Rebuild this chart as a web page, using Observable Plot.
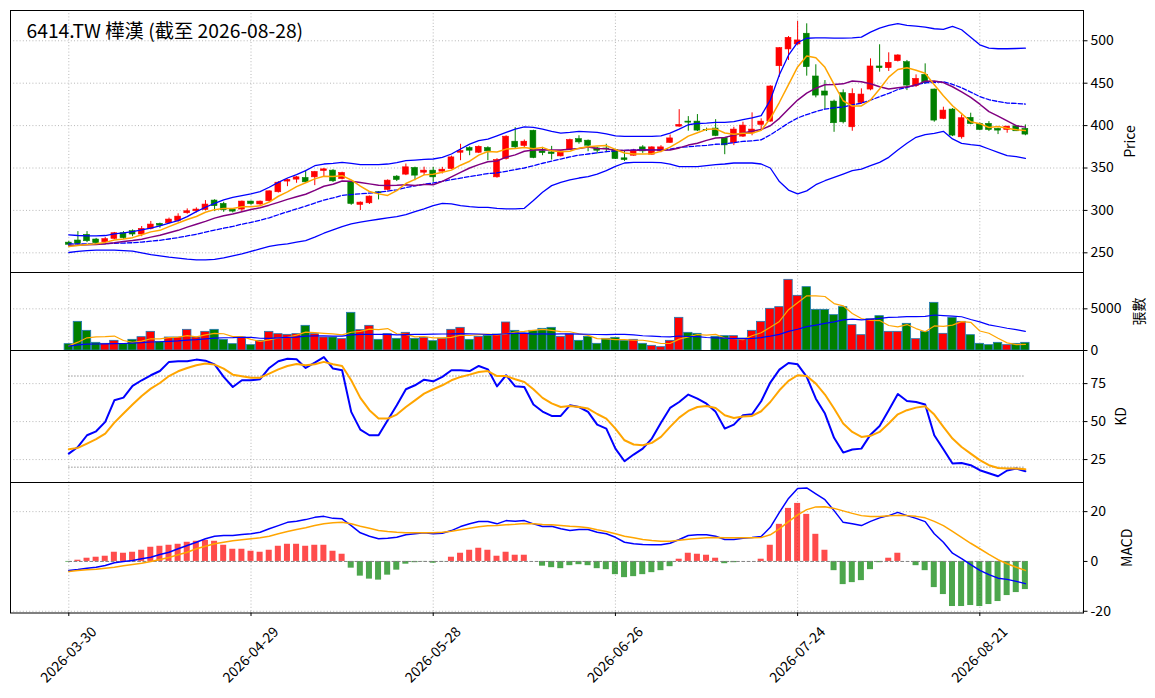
<!DOCTYPE html>
<html><head><meta charset="utf-8">
<script src="https://cdn.jsdelivr.net/npm/d3@7"></script>
<script src="https://cdn.jsdelivr.net/npm/@observablehq/plot@0.6"></script>
<style>
html,body{margin:0;padding:0;background:#fff;}
#chart svg{display:block;}
</style></head><body><div id="chart"></div>
<script>
const title = "6414.TW 樺漢 (截至 2026-08-28)";
const tickIndex = [0, 20, 40, 60, 80, 100];
const tickLabels = ["2026-03-30", "2026-04-29", "2026-05-28", "2026-06-26", "2026-07-24", "2026-08-21"];
const priceTicks = [250, 300, 350, 400, 450, 500];
const volumeTicks = [0, 5000];
const kdTicks = [25, 50, 75];
const kdRefs = [20, 80];
const macdTicks = [-20, 0, 20];

const opens = [262,264.5,271.2,265.7,262.5,266.5,273.1,275.5,271.6,278.2,
 284.1,284.9,287.3,296.7,299,300.6,311.6,307.6,301,301,
 310.4,307,310.8,321.4,334,336.3,338.2,339,346.5,346.9,
 337,333.1,306.5,308.4,321.4,324.1,339.8,342.2,350,344.5,
 346.9,345.7,348.8,368,373.5,368,373.5,339,360.6,381,
 376,393.9,369.6,368.4,363.7,371.6,384,382.2,373.1,373,
 371.2,361.4,364.5,374.3,365.7,369.6,379.6,398.8,404.7,404.7,
 395,396.5,385.3,379.5,387,390.9,400.8,404.7,470,489.8,
 495.7,508.3,457.9,440.2,428.3,438.2,398,426.8,442.5,469.7,
 467.7,476,474.8,446.5,459.8,442.5,407.9,418.9,386.2,409.1,
 402,402,396.1,394.9,399.2,396.1];
const highs = [263.5,275,275,267,268,274,275,277,281,287,
 285,291,296,301.8,303,311.6,312.5,309.6,302,311,
 311,311,323,334,337,340,346.9,346,349.6,348,
 345,334,310,317,322,336,341,354.7,351,351,
 350.8,350.8,364,378,375,376,375,361,388,397.6,
 383,394.5,374.3,375.5,370,384,388,383,374.3,378,
 372,369.6,372,376.3,375,376.3,389,418.8,410.6,413,
 397,407,386,398,404,415,408,447,492,505,
 522.8,520,471.7,453.1,430,442.1,443.3,443.3,478.7,495.3,
 485.8,483.5,476.8,459.8,472.8,443,421.7,420,412.6,414.6,
 403,404.7,397,399,400,400.8];
const lows = [258,259,262,260,261,265.5,266,269,269,277,
 279,284,286,295.5,297,299.5,298.6,297.8,297,298,
 306,306,310,320.5,328,332,332,329.2,339.8,333,
 336,306,299.8,307,312.4,323,334,341,335,341,
 333,343,348,358.6,364.5,367,358.6,338,359.4,373,
 374,361,364.5,359.4,363,371,378,369.2,366.5,368,
 360,357.8,364,367.2,365,368,379,398,393.4,393,
 393,387,365.7,376.4,386,388,394,404,457,476.8,
 494.5,458.3,432.7,418.9,392.1,402,393.3,425,441,463,
 463.8,475,441.3,445,449,404,407,387,384,401,
 394,393,389.4,391,393,388];
const closes = [259.5,260.6,263.7,261.4,266.1,273.1,267.3,271.6,278.2,283.3,
 282,289.2,292.7,299,301,306.9,305,300.2,298.6,310.4,
 307.6,310.4,322.5,332.7,335.9,339,333.1,345.3,348.4,334.3,
 344.1,307.6,309.2,316.3,320.2,335.1,335.9,350.8,341,346.9,
 339,348,362.5,370,370.4,375,369.6,359.4,386.9,374.3,
 381,361.8,367.6,366.5,369.6,383,380.2,376.3,370.4,372,
 360.6,359.4,370.4,369.6,374.3,374.3,384.9,400.8,403.5,394.1,
 394.5,387.8,376.7,395.3,400,395.3,404.7,446.1,491.3,503.5,
 500.4,468.9,435.4,435.4,402.8,403.9,437.4,436.6,469.7,467.7,
 474,482.7,447.2,455.1,450,405.9,417.7,388.2,408.7,402,
 394.9,394.9,394.1,398.8,393.3,389.4];

const ma5 = [257.5,258.6,259.8,260.6,262.3,265,266.3,267.9,271.3,274.7,
 276.5,280.9,285.1,289.2,292.8,297.8,300.9,302.4,302.3,304.2,
 304.4,305.4,309.9,316.7,321.8,328.1,332.6,337.2,340.3,340,
 341,335.9,328.7,322.3,319.5,317.7,323.3,331.7,336.6,341.9,
 342.7,345.1,347.5,353.3,358,365.2,369.5,368.9,372.3,373,
 374.2,372.7,374.3,370.2,369.3,369.7,373.4,375.1,375.9,376.4,
 371.9,367.7,366.6,366.4,366.9,369.6,374.7,380.8,387.6,391.5,
 395.6,396.1,391.3,389.7,390.9,391,394.4,408.3,427.5,448.2,
 469.2,482,479.9,468.7,448.6,429.3,423,423.2,430.1,443.1,
 457.1,466.1,468.3,465.3,461.8,448.2,435.2,423.4,414.1,404.5,
 402.3,397.7,398.9,396.9,395.2,394.1];
const ma10 = [258.6,259,259.4,259.8,260.6,261.8,263.3,264.5,266.1,268.5,
 270.7,273.6,276.5,280.3,283.7,287.1,290.9,293.8,295.8,298.5,
 301.1,303.2,306.2,309.5,313,316.2,319,323.6,328.5,330.9,
 334.6,334.3,333,331.3,329.8,329.4,329.6,330.2,329.5,330.7,
 330.2,334.2,339.6,344.9,350,354,357.3,358.2,362.8,365.5,
 369.7,371.1,371.6,371.3,371.2,372,373,374.7,373.1,372.8,
 370.8,370.6,370.8,371.2,371.6,370.8,371.2,373.7,377,379.2,
 382.6,385.4,386.1,388.6,391.2,393.3,395.3,399.8,408.6,419.5,
 430.1,438.2,444.1,448.1,448.4,449.2,452.5,451.6,449.4,445.8,
 443.2,444.6,445.7,447.7,452.4,452.6,450.7,445.8,439.7,433.2,
 425.2,416.5,411.2,405.5,399.9,398.2];
const ma20 = [260.6,260.5,260.6,260.5,260.7,261.2,261.5,261.9,262.7,263.7,
 264.8,266.3,267.9,269.9,271.9,274.4,276.8,279,281.1,283.8,
 285.9,288.4,291.3,294.9,298.4,301.7,305,308.7,312.2,314.7,
 317.8,318.7,319.6,320.4,321.4,322.8,324.3,326.9,329,330.8,
 332.4,334.3,336.3,338.1,339.9,341.7,343.5,344.2,346.1,348.1,
 350,352.7,355.6,358.1,360.6,363,365.2,366.5,367.9,369.2,
 370.3,370.8,371.2,371.2,371.4,371.4,372.1,374.2,375,376,
 376.7,378,378.4,379.9,381.4,382,383.2,389,396,403,
 409,413,416.5,419.5,421,422,424.5,426.5,430,434,
 438,442.5,445,447.9,450.4,450.9,451.6,448.7,444.6,439.5,
 434.2,430.5,428.4,426.6,426.1,425.4];
const bbUpper = [271.2,270.4,270,270,270.4,272.4,273.5,275.1,277.1,279,
 281.8,284.9,288,292.7,298.6,303.7,308.4,312.4,315.5,317.5,
 319.4,322.2,327.3,333.1,338.2,342.2,346.9,352.7,354.7,355.5,
 356.7,355.5,353.9,353.9,353.9,354.7,356.3,358.6,359.4,360.2,
 360.6,362.5,366.5,372.4,378.2,382.2,384.1,388,392,395.9,
 398.6,397.8,395.9,393.1,391.2,392,393.1,392.7,392,390.2,
 388,387.3,387.3,387.3,387.3,388,391.2,395.9,401,402.5,
 402.9,403.8,403.9,404.7,407.1,409.1,411.8,430,460,483,
 498,503,503.5,503.5,503.1,503.1,503.5,504.3,510.2,515,
 518.1,520.1,518.1,517.3,516.1,514.2,513.4,516.9,513,504.3,
 495.3,491.3,490.6,490.6,490.9,491.3];
const bbLower = [250.4,251.6,252.7,253.1,253.1,253.1,252.7,252,250,248,
 246.5,244.9,243.7,242.5,241.8,241.8,242.2,244.1,246.5,248.8,
 251.6,254.7,257.5,259.4,260.6,262.5,264.5,268.4,273.1,277.1,
 281,284.1,286.1,288,289.6,291.2,292.7,295.1,298.6,301.8,
 305.7,308.4,307.6,305.7,304.5,303.7,303.7,302.5,301.8,301.8,
 302.5,311.6,321.4,329.2,333.1,335.9,338.2,339.8,342.9,346.9,
 352,355.9,356.7,356.7,356.7,356.3,354.7,351.6,351.6,351.6,
 352.7,353.9,354.7,355.9,355.9,355.9,354.7,350,334,324,
 319.5,323,330.3,335,339,342.9,346.9,348.8,352.8,356.7,
 362.6,371.3,379.1,386.2,389.4,390.9,393.3,384.3,379.1,377.6,
 376.4,372.4,368.5,364.6,363.4,361.4];

const volumes = [760,3440,2360,920,800,1160,760,1280,1600,2240,
 1040,1560,1560,2480,1560,2240,2480,1280,760,1560,
 640,1160,2240,1960,1880,1960,2960,1960,1560,1560,
 1360,4520,2440,2960,1280,1960,1400,2120,1400,1520,
 1120,1400,2480,2720,1280,1640,1760,1920,3360,2360,
 2040,2360,2600,2720,1640,1920,1160,1640,800,1400,
 1520,1160,1280,800,560,400,1160,3920,2120,2000,
 0,1640,1720,1720,1440,2360,3440,5000,5200,8480,
 6560,7600,4880,4880,4240,5200,3040,1840,3760,4120,
 2240,2240,3200,1360,2240,5720,2000,3920,3440,1840,
 800,640,920,640,800,920];
const volMa5 = [560,1000,1520,1640,1656,1736,1200,984,1120,1408,
 1384,1544,1600,1776,1640,1880,2064,2008,1664,1664,
 1344,1080,1272,1512,1576,1840,2200,2144,2064,2000,
 1880,2192,2288,2568,2512,2632,2008,1944,1632,1680,
 1512,1512,1584,1848,1800,1904,1976,1864,1992,2208,
 2288,2408,2544,2416,2272,2248,2008,1816,1432,1384,
 1304,1304,1232,1232,1064,840,840,1368,1632,1920,
 1840,1936,1496,1416,1304,1776,2136,2792,3488,4896,
 5736,6568,6544,6480,5632,5360,4448,3840,3616,3592,
 3000,2840,3112,2632,2256,2952,2904,3048,3464,3384,
 2344,2072,1472,912,704,728];
const volMa20 = [522,669,762,782,797,829,842,880,935,1021,
 1048,1100,1153,1251,1304,1390,1489,1527,1540,1592,
 1586,1472,1466,1518,1572,1612,1722,1756,1754,1720,
 1736,1884,1928,1952,1938,1924,1870,1912,1944,1942,
 1966,1978,1990,2028,1998,1982,1922,1920,2010,2050,
 2084,1976,1984,1972,1990,1988,1976,1952,1922,1916,
 1936,1924,1864,1768,1732,1670,1640,1740,1678,1660,
 1558,1522,1478,1428,1418,1440,1554,1722,1942,2296,
 2548,2870,3050,3254,3438,3678,3772,3668,3750,3856,
 3968,3998,4072,4054,4094,4262,4190,4136,4048,3716,
 3428,3080,2882,2670,2498,2286];

const kValues = [28.9,33.3,41,43.6,49.8,64,65.8,73.5,77.2,80.5,
 83.3,89.3,89.7,89.7,90.8,90.1,87.7,79.4,72.8,77.2,
 77.2,77.9,85.3,89.7,91.4,91,85.3,88.8,92.5,84.9,
 83.8,56.4,44.7,41,41,50.9,60.7,71.3,73.9,77.6,
 76.5,79.4,83.8,83.8,83.3,86.6,84.4,73.2,80.5,73.2,
 72.8,61.2,56.6,53.7,53.7,60.7,59.6,56.4,48,45.4,
 32.2,23.9,28.3,32.2,38.8,49.3,59,62.9,67.8,65.1,
 61.8,56.4,45.4,48,54.2,54.8,63.4,75.7,84.2,88.6,
 87.7,79.4,65.1,55.3,39.3,29.6,31.6,32.2,41.4,47.1,
 57.5,68.2,63.6,62.9,61.2,41,31.8,22.4,22.8,21.3,
 18,16,14,17.8,19.1,17.3];
const dValues = [31.8,32.7,35.5,38.4,42.1,49.3,55.3,61.2,66.9,71.7,
 75.4,80,83.1,85.3,87.1,88.2,87.5,84.9,80.9,79.8,
 78.9,78.9,81.6,84.4,86.6,87.9,87.1,87.7,89.3,87.7,
 86.6,77.2,65.6,57.5,52,52,54.6,59.6,64,68.4,
 71.3,73.9,77.2,79.4,80.9,82.7,83.3,80,80,77.9,
 76.1,71.3,65.6,62,59.6,60.3,59.6,58.6,55,52,
 45.4,37.7,34.9,34.4,36,39.9,46.5,52.6,57,59.6,
 60.3,59,54.2,52.4,53.3,53.7,56.8,62.9,70.6,76.8,
 80.5,80,75,67.8,58.6,48.7,43.2,39.9,40.6,43.2,
 48.7,54.8,57.5,59.2,60.1,54.6,46.5,38.8,33.3,28.9,
 24.6,21.3,19.5,19.1,19.1,18.6];

const dif = [-3.6,-3.2,-2.7,-2.3,-1.6,-0.5,0,0.4,1.1,1.7,
 2.8,3.7,5.1,6.4,7.7,9.1,10.1,10.4,10.4,10.8,
 11.1,11.7,13.1,14.4,15.7,16.1,16.8,17.7,18.1,17.3,
 17.1,14.4,11.5,10.1,9.1,9.3,9.7,10.7,11.1,11.5,
 11.1,11.3,12.4,14,15.1,16,16,15.1,16.4,16.1,
 16.4,15.1,14,14.1,13.1,12.4,12.8,12.8,11.7,11.1,
 9.7,7.7,7.1,6.8,6.7,6.7,7.3,8.8,10.4,10.7,
 10.7,10.1,8.8,8.8,9.3,9.6,10,13.7,19.7,25.3,
 29.3,29.5,27.1,24.8,20.4,15.7,15.1,14.4,16.1,17.5,
 18.4,19.7,18.4,17.3,16,11.1,7.7,3.3,1.1,-1.3,
 -3.6,-5.3,-6.7,-7.2,-8,-8.9];
const signal = [-4,-3.6,-3.3,-3.1,-2.7,-2.3,-1.7,-1.2,-0.7,0,
 0.8,1.6,2.7,3.7,5.1,6.1,7.1,7.7,8.3,8.7,
 9.1,9.5,10.1,11.1,12,12.8,13.5,14.4,15.1,15.5,
 15.7,15.1,14.1,13.3,12.4,12,11.7,11.5,11.5,11.5,
 11.5,11.7,12.1,12.7,13.3,13.9,14.3,14.4,14.7,14.9,
 15.2,15.1,14.8,14.7,14.4,14.1,13.9,13.5,12.7,12,
 11.1,10.1,9.5,8.8,8.4,8.1,8.1,8.5,8.9,9.2,
 9.5,9.6,9.5,9.5,9.5,9.5,9.6,10.7,13.1,16,
 18.7,20.8,21.9,22,21.3,20.3,19.3,18.4,18,18,
 18.3,18.5,18.4,18.1,17.5,16.1,14.4,12.1,9.7,7.3,
 5.1,2.8,0.7,-0.9,-2.3,-3.6];
const hist = [-0.3,0.5,1.3,1.7,2.1,3.7,3.3,3.7,4.5,5.7,
 6.1,6.5,6.9,7.7,8.1,8.5,8.1,6.5,4.9,4.9,
 4.1,3.7,4.5,6.1,6.9,6.9,6.1,6.5,6.5,4.1,
 2.9,-2.7,-5.9,-7.1,-7.5,-5.5,-3.5,-1.1,-0.5,-0.1,
 -0.7,-0.1,1.7,3.3,4.5,5.3,4.5,2.1,3.7,2.5,
 2.5,0,-1.9,-2.5,-2.9,-1.7,-1.3,-1.7,-2.9,-3.3,
 -5.3,-6.5,-6.1,-5.3,-4.5,-3.7,-2.1,0.9,3.3,2.9,
 2.5,1.3,-0.9,-0.5,0,0,0.9,6.5,14.9,21.3,
 23.3,18.9,10.9,4.5,-3.7,-9.3,-8.5,-7.7,-3.3,-0.5,
 1.3,3.3,0,-1.7,-3.7,-10.5,-13.3,-18.1,-18.1,-17.7,
 -18.1,-17.3,-16.1,-13.7,-12.5,-11.3];

const n = closes.length;
const rows = d3.range(n).map(i => ({
  i, open: opens[i], high: highs[i], low: lows[i], close: closes[i],
  up: closes[i] >= opens[i],
  volume: volumes[i], volMa5: volMa5[i], volMa20: volMa20[i],
  ma5: ma5[i], ma10: ma10[i], ma20: ma20[i], bbUpper: bbUpper[i], bbLower: bbLower[i],
  k: kValues[i], d: dValues[i], dif: dif[i], signal: signal[i], hist: hist[i]
}));
const firstIdx = rows[0].i, lastIdx = rows[n - 1].i;

const FONT = '"Noto Sans CJK TC", "Noto Sans", sans-serif';
const W = 1155, ML = 10, MR = 72;
const X = {type: "linear", domain: [-6.4, 111.38], axis: null};
const GRID = {stroke: "#b0b0b0", strokeWidth: 0.9, strokeDasharray: "1,2.2"};
const UP = "red", DOWN = "green";
const col = d => d.up ? UP : DOWN;
const style = {fontFamily: FONT, fontSize: "14px", background: "white", overflow: "visible", color: "black"};
const yAxis = (ticks) => Plot.axisY(ticks, {anchor: "right", tickSize: 3.5, tickPadding: 3.5, fontSize: 14, tickFormat: d => String(d), label: null, stroke: "black"});
const yLabel = (txt, dx) => Plot.text([txt], {frameAnchor: "right", dx, rotate: -90, text: d => d, fontSize: 14, textAnchor: "middle", lineAnchor: "middle", fill: "black"});

const pricePlot = Plot.plot({
  width: W, height: 272, marginLeft: ML, marginRight: MR, marginTop: 10, marginBottom: 0,
  style, x: X, y: {domain: [226.8, 535.7], axis: null}, color: {type: "identity"},
  marks: [
    Plot.ruleY(priceTicks, GRID),
    Plot.ruleX(tickIndex, GRID),
    Plot.ruleX(rows, {x: "i", y1: "low", y2: "high", stroke: col, strokeWidth: 1}),
    Plot.rect(rows, {x1: d => d.i - 0.32, x2: d => d.i + 0.32, y1: "open", y2: "close", fill: col, stroke: col, strokeWidth: 0.6}),
    Plot.line(rows, {x: "i", y: "bbUpper", stroke: "blue", strokeWidth: 1.3}),
    Plot.line(rows, {x: "i", y: "bbLower", stroke: "blue", strokeWidth: 1.3}),
    Plot.line(rows, {x: "i", y: "ma20", stroke: "blue", strokeWidth: 1.3, strokeDasharray: "4.5,2"}),
    Plot.line(rows, {x: "i", y: "ma10", stroke: "purple", strokeWidth: 1.5}),
    Plot.line(rows, {x: "i", y: "ma5", stroke: "orange", strokeWidth: 1.5}),
    Plot.frame({stroke: "black", strokeWidth: 1}),
    yAxis(priceTicks),
    yLabel("Price", 47),
    Plot.text([title], {frameAnchor: "top-left", dx: 16, dy: 21, text: d => d, textAnchor: "start", lineAnchor: "middle", fontSize: 19.3, fill: "black"})
  ]
});

const volPlot = Plot.plot({
  width: W, height: 78, marginLeft: ML, marginRight: MR, marginTop: 0, marginBottom: 0,
  style, x: X, y: {domain: [0, 9360], axis: null}, color: {type: "identity"},
  marks: [
    Plot.ruleY([5000], GRID),
    Plot.ruleX(tickIndex, GRID),
    Plot.rectY(rows, {x1: d => d.i - 0.46, x2: d => d.i + 0.46, y: "volume", fill: col, stroke: "#1f77b4", strokeWidth: 0.8}),
    Plot.line(rows, {x: "i", y: "volMa5", stroke: "orange", strokeWidth: 1.2}),
    Plot.line(rows, {x: "i", y: "volMa20", stroke: "blue", strokeWidth: 1.2}),
    Plot.frame({stroke: "black", strokeWidth: 1}),
    yAxis(volumeTicks),
    yLabel("張數", 56)
  ]
});

const kdPlot = Plot.plot({
  width: W, height: 132, marginLeft: ML, marginRight: MR, marginTop: 0, marginBottom: 0,
  style, x: X, y: {domain: [9.9, 96.8], axis: null},
  marks: [
    Plot.ruleY(kdTicks, GRID),
    Plot.ruleX(tickIndex, GRID),
    Plot.ruleY(kdRefs, {x1: firstIdx, x2: lastIdx, stroke: "#777", strokeWidth: 1, strokeDasharray: "1.2,1.8"}),
    Plot.line(rows, {x: "i", y: "k", stroke: "blue", strokeWidth: 2}),
    Plot.line(rows, {x: "i", y: "d", stroke: "orange", strokeWidth: 2}),
    Plot.frame({stroke: "black", strokeWidth: 1}),
    yAxis(kdTicks),
    yLabel("KD", 38)
  ]
});

const macdPlot = Plot.plot({
  width: W, height: 216, marginLeft: ML, marginRight: MR, marginTop: 0, marginBottom: 85.5,
  style, x: X, y: {domain: [-20.7, 31.7], axis: null}, color: {type: "identity"},
  marks: [
    Plot.ruleY([-20, 20], GRID),
    Plot.ruleX(tickIndex, GRID),
    Plot.rectY(rows, {x1: d => d.i - 0.33, x2: d => d.i + 0.33, y: "hist", fill: d => d.hist >= 0 ? "red" : "green", fillOpacity: 0.7}),
    Plot.ruleY([0], {x1: firstIdx, x2: lastIdx, stroke: "gray", strokeWidth: 1, strokeDasharray: "3.7,1.6"}),
    Plot.line(rows, {x: "i", y: "dif", stroke: "blue", strokeWidth: 1.5}),
    Plot.line(rows, {x: "i", y: "signal", stroke: "orange", strokeWidth: 1.5}),
    Plot.frame({stroke: "black", strokeWidth: 1}),
    yAxis(macdTicks),
    yLabel("MACD", 44),
    Plot.axisX(tickIndex, {anchor: "bottom", tickSize: 3.5, tickFormat: () => "", label: null, stroke: "black"}),
    Plot.text(tickIndex, {x: d => d, frameAnchor: "bottom", dy: 42, rotate: -45, text: (d, j) => tickLabels[j], textAnchor: "middle", lineAnchor: "middle", fontSize: 14, fill: "black"})
  ]
});

const root = document.getElementById("chart");
[pricePlot, volPlot, kdPlot, macdPlot].forEach(p => root.appendChild(p));
</script></body></html>
